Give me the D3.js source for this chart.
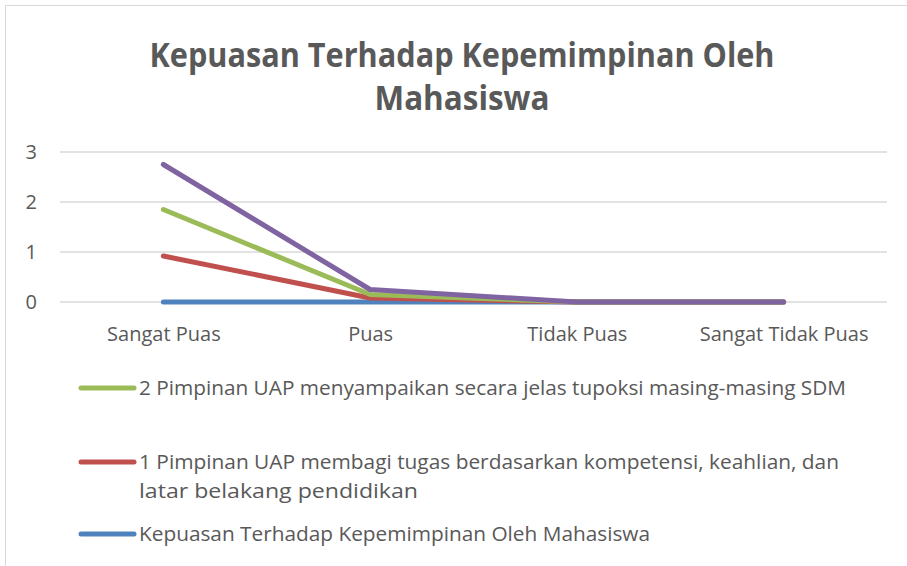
<!DOCTYPE html>
<html>
<head>
<meta charset="utf-8">
<script src="https://cdn.jsdelivr.net/npm/d3@7"></script>
<style>
  html, body { margin: 0; padding: 0; background: #fff; }
  svg { display: block; font-family: "Open Sans", "Noto Sans", sans-serif; }
</style>
</head>
<body>
<svg id="chart" width="907" height="566"></svg>
<script>
// chart data
const categories = ["Sangat Puas", "Puas", "Tidak Puas", "Sangat Tidak Puas"];
const yTicks = [0, 1, 2, 3];
const seriesNames = [
  "Kepuasan Terhadap Kepemimpinan Oleh Mahasiswa",
  "1 Pimpinan UAP membagi tugas berdasarkan kompetensi, keahlian, dan latar belakang pendidikan",
  "2 Pimpinan UAP menyampaikan secara jelas tupoksi masing-masing SDM",
  "3"
];
const valuesBlue = [0, 0, 0, 0];
const valuesRed = [0.92, 0.08, 0, 0];
const valuesGreen = [1.85, 0.15, 0, 0];
const valuesPurple = [2.75, 0.25, 0, 0];
const colors = ["#4f81bd", "#c0504d", "#9bbb59", "#8064a2"];

const series = [valuesBlue, valuesRed, valuesGreen, valuesPurple].map((v, i) => ({
  name: seriesNames[i], values: v, color: colors[i]
}));

const margin = { top: 152, right: 20, bottom: 264, left: 60 };
const chartW = 887 - margin.left;
const chartH = 150;

const svg = d3.select("#chart");

// outer frame (only top and left edges show in the crop)
svg.append("path")
  .attr("d", "M5.5,566 V5.5 H907")
  .attr("fill", "none")
  .attr("stroke", "#d9d9d9")
  .attr("stroke-width", 1);

// title
const title = svg.append("g").attr("fill", "#595959")
  .attr("font-weight", "bold").attr("font-size", 34).attr("text-anchor", "middle");
title.append("text").attr("x", 462).attr("y", 67)
  .attr("textLength", 625).attr("lengthAdjust", "spacingAndGlyphs")
  .text("Kepuasan Terhadap Kepemimpinan Oleh");
title.append("text").attr("x", 462).attr("y", 110)
  .attr("textLength", 175).attr("lengthAdjust", "spacingAndGlyphs")
  .text("Mahasiswa");

const g = svg.append("g").attr("transform", `translate(${margin.left},${margin.top})`);

const x = d3.scalePoint().domain(categories).range([0, chartW]).padding(0.5);
const y = d3.scaleLinear().domain([0, 3]).range([chartH, 0]);

// gridlines
g.append("g")
  .selectAll("line")
  .data(yTicks)
  .join("line")
  .attr("x1", 0).attr("x2", chartW)
  .attr("y1", d => y(d)).attr("y2", d => y(d))
  .attr("stroke", "#d9d9d9").attr("stroke-width", 1.5);

// y axis labels
const yAxis = g.append("g")
  .call(d3.axisLeft(y).tickValues(yTicks).tickFormat(d3.format("d")).tickSize(0).tickPadding(23));
yAxis.select(".domain").remove();
yAxis.selectAll("text").attr("font-size", 20).attr("fill", "#595959")
  .attr("font-family", "'Open Sans', 'Noto Sans', sans-serif");

// x axis labels
const xAxis = g.append("g").attr("transform", `translate(0,${chartH})`)
  .call(d3.axisBottom(x).tickSize(0).tickPadding(25));
xAxis.select(".domain").remove();
xAxis.selectAll("text").attr("font-size", 20).attr("fill", "#595959")
  .attr("font-family", "'Open Sans', 'Noto Sans', sans-serif");

// lines
const line = d3.line()
  .x((d, i) => x(categories[i]))
  .y(d => y(d));

g.append("g")
  .selectAll("path")
  .data(series)
  .join("path")
  .attr("d", d => line(d.values))
  .attr("fill", "none")
  .attr("stroke", d => d.color)
  .attr("stroke-width", 5)
  .attr("stroke-linecap", "round")
  .attr("stroke-linejoin", "round");

// legend (purple entry is cut off in the original)
const legendItems = [
  { s: series[2], y: 388, lines: [{ t: "2 Pimpinan UAP menyampaikan secara jelas tupoksi masing-masing SDM", w: 707 }] },
  { s: series[1], y: 462, lines: [
      { t: "1 Pimpinan UAP membagi tugas berdasarkan kompetensi, keahlian, dan", w: 700 },
      { t: "latar belakang pendidikan", w: 279 }] },
  { s: series[0], y: 534, lines: [{ t: "Kepuasan Terhadap Kepemimpinan Oleh Mahasiswa", w: 511 }] }
];

const legend = svg.append("g");
legendItems.forEach(item => {
  legend.append("line")
    .attr("x1", 81).attr("x2", 134)
    .attr("y1", item.y).attr("y2", item.y)
    .attr("stroke", item.s.color).attr("stroke-width", 5)
    .attr("stroke-linecap", "round");
  item.lines.forEach((l, k) => {
    legend.append("text")
      .attr("x", 139).attr("y", item.y + 7 + k * 29)
      .attr("font-size", 20).attr("fill", "#595959")
      .attr("textLength", l.w).attr("lengthAdjust", "spacingAndGlyphs")
      .text(l.t);
  });
});
</script>
</body>
</html>
